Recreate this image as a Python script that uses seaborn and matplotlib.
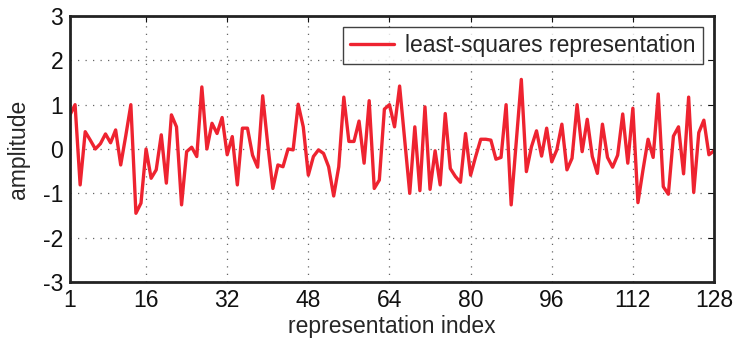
import matplotlib
matplotlib.use("Agg")
import matplotlib.pyplot as plt
import matplotlib.ticker as mticker
import numpy as np
import pandas as pd
import seaborn as sns

# representation index 1..128 and the amplitude
indices = list(range(1, 129))
amplitude = [
    0.77, 1.0, -0.81, 0.39, 0.2, 0.0, 0.12, 0.34, 0.14, 0.43,
    -0.36, 0.3, 1.0, -1.45, -1.22, 0.0, -0.66, -0.47, 0.32, -0.77,
    0.77, 0.5, -1.26, -0.06, 0.04, -0.17, 1.4, 0.0, 0.58, 0.35,
    0.71, -0.13, 0.28, -0.81, 0.47, 0.47, -0.14, -0.41, 1.2, 0.1,
    -0.89, -0.36, -0.4, 0.0, -0.02, 1.01, 0.5, -0.59, -0.17, -0.02,
    -0.1, -0.4, -1.06, -0.4, 1.17, 0.17, 0.17, 0.63, -0.32, 1.09,
    -0.89, -0.7, 0.9, 1.0, 0.5, 1.42, 0.2, -1.0, 0.5, -0.94,
    0.95, -0.91, -0.04, -0.81, 0.8, -0.44, -0.62, -0.75, 0.35, -0.59,
    -0.17, 0.22, 0.22, 0.2, -0.23, -0.19, 1.0, -1.26, 0.15, 1.57,
    -0.51, 0.05, 0.41, -0.16, 0.47, -0.29, -0.02, 0.56, -0.47, -0.21,
    1.0, -0.06, 0.67, -0.17, -0.55, 0.56, -0.19, -0.41, -0.14, 0.79,
    -0.32, 0.92, -1.21, -0.47, 0.22, -0.19, 1.24, -0.85, -1.02, 0.29,
    0.5, -0.56, 1.17, -0.98, 0.37, 0.65, -0.13, -0.04,
]
x_ticks = [1, 16, 32, 48, 64, 80, 96, 112, 128]
y_ticks = [-3, -2, -1, 0, 1, 2, 3]

df = pd.DataFrame({"index": indices, "amplitude": amplitude})

sns.set_style("white")
plt.rcParams["font.family"] = ["Liberation Sans", "DejaVu Sans"]
fs = 16.5

fig = plt.figure(figsize=(7.34, 3.39), dpi=100)
ax = fig.add_axes([70 / 734, 57 / 339, 644 / 734, 266 / 339])

sns.lineplot(data=df, x="index", y="amplitude", ax=ax, color="#ee2330",
             linewidth=2.4, label="least-squares representation")

ax.set_xlim(1, 128)
ax.set_ylim(-3, 3)
ax.set_xticks(x_ticks)
ax.set_yticks(y_ticks)
ax.yaxis.set_major_formatter(mticker.FuncFormatter(lambda v, p: str(int(v))))

ax.grid(True, linestyle=(0, (1, 5)), color="#666666", linewidth=0.9)
ax.tick_params(direction="in", length=4, width=0.8, top=True, right=True,
               labelsize=fs, colors="#111111")
ax.tick_params(axis="x", pad=5)
ax.tick_params(axis="y", pad=5)
for s in ax.spines.values():
    s.set_linewidth(2.0)
    s.set_color("#222222")

ax.set_xlabel("representation index", fontsize=fs, labelpad=2)
ax.set_ylabel("amplitude", fontsize=fs, labelpad=12)
ax.yaxis.set_label_coords(-0.062, 0.5)

leg = ax.legend(loc="upper right", fontsize=fs, frameon=True, fancybox=False,
                handlelength=1.9, handletextpad=0.5, borderpad=0.3,
                borderaxespad=0.5)
leg.get_frame().set_edgecolor("#111111")
leg.get_frame().set_linewidth(1.0)

fig.savefig("out.png", dpi=100)
